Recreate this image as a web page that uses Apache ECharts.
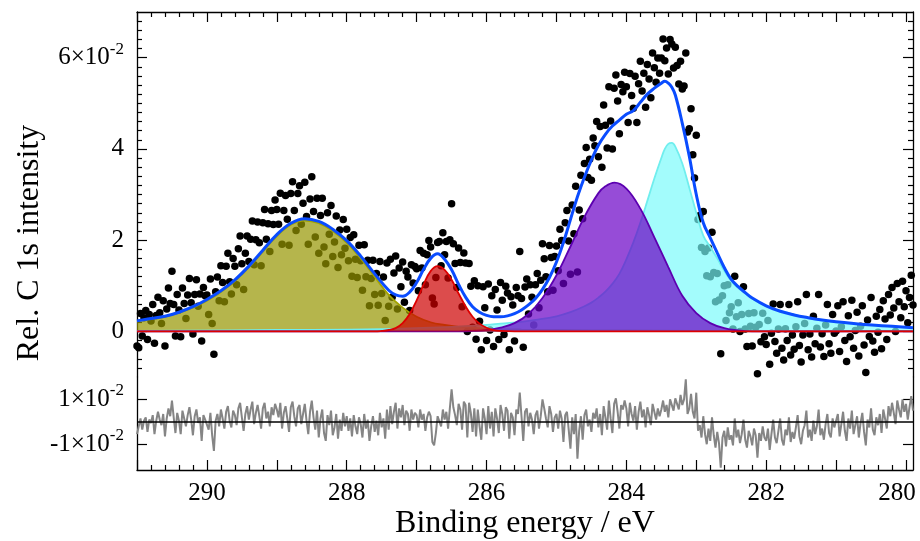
<!DOCTYPE html>
<html><head><meta charset="utf-8">
<script src="https://cdn.jsdelivr.net/npm/echarts@6.0.0/dist/echarts.min.js"></script>
<style>html,body{margin:0;padding:0;background:#fff}#c{width:920px;height:541px}</style>
</head><body><div id="c"></div>
<script>
// Units of intensity: 1e-2
const energyStart = 291.0, energyStep = 0.025;

const intensity = [
-0.32,-0.36,0.39,-0.10,0.30,0.46,-0.18,0.37,0.23,0.59,
-0.26,0.35,0.75,0.41,0.17,0.67,-0.32,0.49,0.95,0.61,
1.32,0.59,-0.10,0.81,0.47,-0.12,0.95,0.61,0.28,0.80,
1.16,0.63,-0.06,0.81,1.13,0.55,0.82,-0.21,0.96,0.78,
0.80,0.37,1.15,0.17,-0.50,0.87,1.19,0.67,1.44,1.07,
0.65,1.43,1.71,1.09,0.82,1.60,1.43,1.02,1.81,2.09,
1.48,0.92,1.71,2.09,1.53,2.02,2.42,1.46,2.01,2.40,
1.94,1.44,2.38,2.67,2.02,2.36,1.75,2.65,2.34,2.88,
2.67,2.35,3.03,1.91,2.65,2.98,2.46,1.89,3.02,3.28,
2.65,2.21,3.02,3.19,2.35,2.81,3.27,2.52,1.91,2.90,
3.39,2.63,2.07,2.92,1.71,2.54,2.92,1.85,1.48,2.60,
2.13,2.76,1.64,1.96,2.53,1.40,2.22,1.68,2.45,1.82,
2.24,1.55,2.06,1.21,2.12,1.58,1.18,1.89,1.55,0.90,
1.90,1.20,1.56,0.56,1.16,1.56,0.81,1.27,0.57,1.53,
0.83,1.19,0.24,1.50,0.55,1.58,0.75,1.28,1.65,0.49,
1.39,0.98,1.52,0.64,1.32,1.19,0.46,1.46,1.06,1.42,
1.37,0.89,1.77,1.39,1.71,1.02,1.68,1.99,1.85,0.73,
0.60,1.18,1.95,1.97,1.44,2.16,1.68,1.97,1.17,2.01,
2.80,1.92,1.49,0.96,1.83,1.51,0.54,1.72,1.50,0.00,
1.49,0.99,0.09,1.11,-0.17,1.00,0.22,-0.40,0.98,0.52,
-0.20,1.04,0.03,0.78,-0.33,0.92,0.47,-0.18,1.07,0.68,
-0.07,0.99,0.84,-0.40,0.76,0.58,-0.21,0.96,0.78,1.75,
0.72,-0.35,0.97,1.15,0.38,1.02,0.75,0.14,1.02,1.27,
0.52,1.12,1.92,1.59,1.20,0.87,1.88,1.62,0.90,1.64,
1.87,1.33,2.24,1.99,1.05,2.38,2.65,1.98,1.25,2.77,
2.14,3.18,1.30,2.66,3.42,2.47,3.68,4.03,3.37,3.77,
3.31,4.24,4.07,4.60,3.83,4.49,3.60,4.96,4.52,4.02,
5.36,4.61,4.00,5.33,5.62,5.05,4.33,5.41,5.25,5.68,
5.36,4.58,5.65,5.17,4.89,5.59,4.58,5.43,5.92,5.27,
5.66,4.91,5.85,5.53,5.12,6.10,5.78,5.46,5.99,5.66,
5.99,6.41,5.93,6.21,5.64,6.40,6.30,5.77,6.23,5.83,
5.42,5.92,5.31,5.38,6.10,4.37,4.44,4.88,3.87,3.36,
4.30,2.45,2.54,1.84,2.63,1.75,1.22,1.83,1.20,2.17,
1.29,0.65,1.27,0.69,-0.49,0.78,1.00,0.24,1.02,0.41,
0.54,0.05,1.21,0.32,0.63,0.00,0.37,0.98,0.05,-0.33,
0.39,0.11,-0.32,0.41,0.09,-0.93,0.15,-0.23,0.40,-0.12,
-0.29,0.24,-0.72,-0.04,0.60,-0.22,-0.48,0.05,0.59,-0.37,
-0.63,0.06,-0.20,0.59,-0.52,-0.08,-0.39,0.10,0.65,-0.31,
-0.67,-0.08,0.17,0.81,-0.40,-0.06,-0.56,0.33,-0.27,0.07,
0.81,-0.34,-0.05,-0.55,0.14,0.59,-0.27,-0.48,0.37,-0.04,
0.01,0.56,-0.44,0.10,0.65,-0.20,-0.66,0.34,-0.12,0.68,
-0.37,0.02,0.42,-0.54,0.11,0.56,-0.30,-0.90,0.25,-0.11,
0.74,-0.21,-0.46,0.33,-0.02,0.48,-0.38,0.67,0.27,-0.18,
0.81,0.36,0.96,0.51,0.00,1.05,0.65,0.30,1.10,0.54,
0.89,0.19,0.74,1.23,0.58
];

const residual = [
-0.55,-0.60,0.15,-0.35,0.05,0.20,-0.45,0.10,-0.05,0.30,
-0.55,0.05,0.45,0.10,-0.15,0.35,-0.65,0.15,0.60,0.25,
0.95,0.20,-0.50,0.40,0.05,-0.55,0.50,0.15,-0.20,0.30,
0.65,0.10,-0.60,0.25,0.55,-0.05,0.20,-0.85,0.30,0.10,
0.10,-0.35,0.40,-0.60,-1.30,0.05,0.35,-0.20,0.55,0.15,
-0.30,0.45,0.70,0.05,-0.25,0.50,0.30,-0.15,0.60,0.85,
0.20,-0.40,0.35,0.70,0.10,0.55,0.90,-0.10,0.40,0.75,
0.25,-0.30,0.60,0.85,0.15,0.45,-0.20,0.65,0.30,0.80,
0.55,0.20,0.85,-0.30,0.40,0.70,0.15,-0.45,0.65,0.90,
0.25,-0.20,0.60,0.75,-0.10,0.35,0.80,0.05,-0.55,0.45,
0.95,0.20,-0.35,0.50,-0.70,0.15,0.55,-0.50,-0.85,0.30,
-0.15,0.50,-0.60,-0.25,0.35,-0.75,0.10,-0.40,0.40,-0.20,
0.25,-0.40,0.15,-0.65,0.30,-0.20,-0.55,0.20,-0.10,-0.70,
0.35,-0.30,0.10,-0.85,-0.20,0.25,-0.45,0.05,-0.60,0.40,
-0.25,0.15,-0.75,0.55,-0.35,0.70,-0.10,0.45,0.85,-0.30,
0.60,0.20,0.75,-0.15,0.50,0.35,-0.40,0.55,0.10,0.40,
0.30,-0.25,0.55,0.10,0.35,-0.40,0.20,0.45,0.25,-0.90,
-1.05,-0.50,0.25,0.30,-0.20,0.55,0.10,0.45,-0.30,0.60,
1.45,0.65,0.30,-0.15,0.80,0.55,-0.35,0.90,0.75,-0.70,
0.85,0.40,-0.45,0.60,-0.65,0.55,-0.20,-0.80,0.60,0.15,
-0.55,0.70,-0.30,0.45,-0.65,0.60,0.15,-0.50,0.75,0.35,
-0.40,0.65,0.50,-0.75,0.40,0.20,-0.60,0.55,0.35,1.30,
0.25,-0.85,0.45,0.60,-0.20,0.40,0.10,-0.55,0.30,0.50,
-0.30,0.25,1.00,0.60,0.15,-0.25,0.70,0.35,-0.45,0.20,
0.35,-0.30,0.50,0.15,-0.90,0.30,0.45,-0.35,-1.20,0.20,
-0.55,0.35,-1.65,-0.40,0.25,-0.80,0.30,0.55,-0.20,0.10,
-0.45,0.40,0.15,0.60,-0.25,0.35,-0.60,0.70,0.20,-0.35,
0.95,0.15,-0.50,0.80,1.05,0.45,-0.30,0.75,0.55,0.95,
0.60,-0.20,0.85,0.35,0.05,0.70,-0.35,0.45,0.90,0.20,
0.55,-0.25,0.65,0.30,-0.15,0.80,0.45,0.10,0.60,0.25,
0.55,0.95,0.45,0.75,0.20,1.00,0.95,0.50,1.05,0.80,
0.55,1.20,0.75,1.00,1.90,0.35,0.60,1.25,0.45,0.15,
1.30,-0.40,-0.15,-0.70,0.25,-0.55,-1.00,-0.30,-0.85,0.20,
-0.60,-1.15,-0.45,-0.95,-2.05,-0.70,-0.40,-1.10,-0.25,-0.80,
-0.60,-1.05,0.15,-0.70,-0.35,-0.95,-0.55,0.10,-0.80,-1.15,
-0.40,-0.65,-1.05,-0.30,-0.60,-1.60,-0.50,-0.85,-0.20,-0.70,
-0.85,-0.30,-1.25,-0.55,0.10,-0.70,-0.95,-0.40,0.15,-0.80,
-1.05,-0.35,-0.60,0.20,-0.90,-0.45,-0.75,-0.25,0.30,-0.65,
-1.00,-0.40,-0.15,0.50,-0.70,-0.35,-0.85,0.05,-0.55,-0.20,
0.55,-0.60,-0.30,-0.80,-0.10,0.35,-0.50,-0.70,0.15,-0.25,
-0.20,0.35,-0.65,-0.10,0.45,-0.40,-0.85,0.15,-0.30,0.50,
-0.55,-0.15,0.25,-0.70,-0.05,0.40,-0.45,-1.05,0.10,-0.25,
0.60,-0.35,-0.60,0.20,-0.15,0.35,-0.50,0.55,0.15,-0.30,
0.70,0.25,0.85,0.40,-0.10,0.95,0.55,0.20,1.00,0.45,
0.80,0.10,0.65,1.15,0.50
];

// Fit envelope (blue)
const envelopeE = [291.0,290.8,290.6,290.4,290.2,290.0,289.8,289.6,289.4,289.2,289.0,288.8,288.6,288.4,288.2,288.0,287.8,287.6,287.4,287.3,287.2,287.1,287.0,286.9,286.8,286.7,286.6,286.5,286.4,286.3,286.2,286.1,286.0,285.9,285.8,285.7,285.6,285.5,285.4,285.3,285.2,285.1,285.0,284.9,284.8,284.7,284.6,284.5,284.4,284.3,284.2,284.1,284.0,283.9,283.8,283.7,283.6,283.5,283.45,283.4,283.35,283.3,283.2,283.1,283.0,282.9,282.8,282.7,282.6,282.5,282.4,282.3,282.2,282.0,281.8,281.6,281.4,281.2,281.0,280.6,280.2,279.9];
const envelopeI = [0.23,0.28,0.33,0.42,0.54,0.70,0.89,1.13,1.43,1.78,2.12,2.37,2.47,2.41,2.24,1.99,1.65,1.26,0.90,0.80,0.77,0.86,1.07,1.36,1.60,1.70,1.58,1.35,1.03,0.75,0.54,0.42,0.35,0.32,0.32,0.34,0.39,0.47,0.58,0.72,0.92,1.18,1.52,1.95,2.45,2.95,3.38,3.76,4.08,4.32,4.50,4.63,4.76,4.84,5.02,5.20,5.33,5.44,5.48,5.44,5.35,5.18,4.56,3.84,3.00,2.38,2.05,1.72,1.40,1.14,0.98,0.85,0.73,0.56,0.44,0.36,0.30,0.25,0.21,0.15,0.11,0.08];

// Component: O-C=O (olive)
const oliveE = [291.0,290.8,290.6,290.4,290.2,290.0,289.8,289.6,289.4,289.2,289.0,288.8,288.6,288.4,288.2,288.0,287.8,287.6,287.4,287.2,287.0,286.8,286.6,286.4,286.2,286.0,285.5,285.0,284.0,282.0,279.9];
const oliveI = [0.23,0.27,0.32,0.41,0.52,0.67,0.86,1.10,1.40,1.75,2.09,2.34,2.43,2.37,2.20,1.94,1.60,1.20,0.80,0.52,0.32,0.20,0.14,0.10,0.08,0.06,0.04,0.03,0.02,0.01,0.01];

// Component: C=O (red)
const redE = [291.0,287.8,287.6,287.5,287.4,287.3,287.2,287.1,287.0,286.9,286.8,286.7,286.6,286.5,286.4,286.3,286.2,286.1,286.0,285.9,285.8,285.6,279.9];
const redI = [0,0,0,0.01,0.03,0.07,0.18,0.38,0.68,1.03,1.32,1.43,1.35,1.13,0.83,0.55,0.32,0.17,0.08,0.03,0.01,0,0];

// Component: C-C/C-H (purple)
const purpleE = [291.0,287.0,286.4,286.2,286.0,285.8,285.6,285.4,285.2,285.0,284.8,284.6,284.4,284.3,284.17,284.0,283.8,283.6,283.4,283.2,283.0,282.8,282.6,282.4,282.2,282.0,279.9];
const purpleI = [0,0,0,0.01,0.03,0.08,0.18,0.38,0.73,1.23,1.86,2.51,3.03,3.18,3.26,3.13,2.69,2.06,1.41,0.78,0.40,0.18,0.07,0.02,0,0,0];

// Component: sp2 C (cyan)
const cyanE = [291.0,289.0,287.5,286.5,286.0,285.8,285.5,285.3,285.0,284.8,284.6,284.5,284.4,284.3,284.2,284.1,284.0,283.9,283.8,283.7,283.6,283.5,283.45,283.4,283.35,283.3,283.2,283.1,283.0,282.9,282.8,282.7,282.6,282.5,282.4,282.3,282.2,282.0,281.7,281.4,281.0,280.5,280.0,279.9];
const cyanI = [0.01,0.03,0.05,0.10,0.14,0.17,0.21,0.25,0.33,0.42,0.55,0.63,0.74,0.87,1.04,1.26,1.58,1.95,2.38,2.86,3.35,3.80,4.00,4.11,4.13,4.05,3.68,3.15,2.60,2.10,1.85,1.60,1.33,1.10,0.95,0.84,0.72,0.55,0.41,0.29,0.20,0.14,0.09,0.07];

// Tick labels
const xLabelValues = [280,282,284,286,288,290];
const xMajorTicks = [280,281,282,283,284,285,286,287,288,289,290,291];
const yLabelValues = [0,2,4,6];
const residualLabelValues = [-1,1];

const FONT = "'Liberation Serif','Times New Roman',serif";
const zip = (e, v) => e.map((x, i) => [x, v[i]]);
const energyAt = i => +(energyStart - i * energyStep).toFixed(3);
const scatterData = intensity.map((v, i) => [energyAt(i), v]);
const residualData = residual.map((v, i) => [energyAt(i), v]);

const xMinor = [];
for (let t = 1400; t <= 1455; t++) if (t % 5) xMinor.push(t / 5);
const yMinor = [];
for (let t = -4; t <= 34; t++) if (t % 10) yMinor.push(t / 5);

const lineCol = '#000';
const rich = {
  a: { fontFamily: FONT, fontSize: 25, color: '#000', lineHeight: 34 },
  e: { fontFamily: FONT, fontSize: 25, color: '#000', lineHeight: 34, padding: [0, 18, 0, 0] },
  s: { fontFamily: FONT, fontSize: 17, color: '#000', lineHeight: 12, verticalAlign: 'top' }
};
const xFmt = v => (v === 280 ? '{e|280}' : '{a|' + v + '}');
const baseX = { type: 'value', min: 279.9, max: 291, inverse: true, splitLine: { show: false } };
function xAx(grid, pos, ticks, len, main, labels) {
  return Object.assign({}, baseX, {
    gridIndex: grid, position: pos,
    axisLine: { show: main, onZero: false, lineStyle: { color: lineCol, width: 1.3 } },
    axisTick: { show: true, inside: true, length: len, customValues: ticks, lineStyle: { color: lineCol, width: 1.2 } },
    axisLabel: labels ? { show: true, customValues: labels, margin: 6, formatter: xFmt, rich: rich } : { show: false },
  });
}
function yAx(grid, pos, min, max, ticks, len, main, labels, fmt) {
  return {
    type: 'value', gridIndex: grid, position: pos, min: min, max: max,
    splitLine: { show: false },
    axisLine: { show: main, onZero: false, lineStyle: { color: lineCol, width: 1.3 } },
    axisTick: { show: true, inside: true, length: len, customValues: ticks, lineStyle: { color: lineCol, width: 1.2 } },
    axisLabel: labels ? { show: true, customValues: labels, margin: 13, formatter: fmt, rich: rich } : { show: false },
  };
}
const mainFmt = v => (v === 6 ? '{a|6×10}{s|-2}' : '{a|' + v + '}');
const resFmt = v => (v === 1 ? '{a|1×10}{s|-2}' : '{a|-1×10}{s|-2}');

const area = (name, data, fill, stroke, z) => ({
  name, type: 'line', xAxisIndex: 0, yAxisIndex: 0, data, smooth: 0.4, showSymbol: false, z,
  lineStyle: { color: stroke, width: 1.8 }, areaStyle: { color: fill, opacity: 1 }, silent: true
});

const chart = echarts.init(document.getElementById('c'), null, { renderer: 'canvas' });
chart.setOption({
  animation: false,
  backgroundColor: '#fff',
  grid: [
    { left: 137, right: 7, top: 12, height: 365, outerBoundsMode: 'none' },
    { left: 137, right: 7, top: 377, height: 93, outerBoundsMode: 'none' }
  ],
  xAxis: [
    xAx(0, 'top', xMajorTicks, 10, true, null),
    xAx(0, 'top', xMinor, 5, false, null),
    Object.assign(xAx(1, 'bottom', xMajorTicks, 10, true, xLabelValues), {
      name: 'Binding energy / eV', nameLocation: 'middle', nameGap: 38,
      nameTextStyle: { fontFamily: FONT, fontSize: 32, color: '#000', verticalAlign: 'top' }
    }),
    xAx(1, 'bottom', xMinor, 5, false, null)
  ],
  yAxis: [
    yAx(0, 'left', -1, 7, yLabelValues, 10, true, yLabelValues, mainFmt),
    yAx(0, 'left', -1, 7, yMinor, 5, false, null),
    yAx(0, 'right', -1, 7, yLabelValues, 10, true, null),
    yAx(0, 'right', -1, 7, yMinor, 5, false, null),
    yAx(1, 'left', -2.15, 2, residualLabelValues, 10, true, residualLabelValues, resFmt),
    yAx(1, 'right', -2.15, 2, residualLabelValues, 10, true, null)
  ],
  graphic: [{
    type: 'text', x: 30, y: 243, rotation: Math.PI / 2,
    style: { text: 'Rel. C 1s intensity', font: '32px ' + FONT, fill: '#000', textAlign: 'center', textVerticalAlign: 'middle' }
  }],
  series: [
    { name: 'data', type: 'scatter', xAxisIndex: 0, yAxisIndex: 0, data: scatterData, symbol: 'circle', symbolSize: 7.5,
      itemStyle: { color: '#000', opacity: 1 }, z: 1, silent: true },
    area('olive', zip(oliveE, oliveI), 'rgba(150,150,0,0.7)', '#a3a300', 2),
    area('cyan', zip(cyanE, cyanI), 'rgba(120,250,250,0.68)', '#70eeee', 3),
    area('purple', zip(purpleE, purpleI), 'rgba(105,0,198,0.7)', '#5c00b0', 4),
    area('red', zip(redE, redI), 'rgba(205,0,0,0.7)', '#dd0000', 5),
    { name: 'envelope', type: 'line', xAxisIndex: 0, yAxisIndex: 0, data: zip(envelopeE, envelopeI), smooth: 0.4,
      showSymbol: false, z: 6, lineStyle: { color: '#0a4cff', width: 3 }, silent: true },
    { name: 'residual', type: 'line', xAxisIndex: 2, yAxisIndex: 4, data: residualData, showSymbol: false, z: 2,
      lineStyle: { color: '#858585', width: 2 }, silent: true,
      markLine: { silent: true, symbol: 'none', label: { show: false }, lineStyle: { color: '#000', width: 1.5, type: 'solid' },
        data: [{ yAxis: 0 }] } }
  ]
});
</script>
</body></html>
